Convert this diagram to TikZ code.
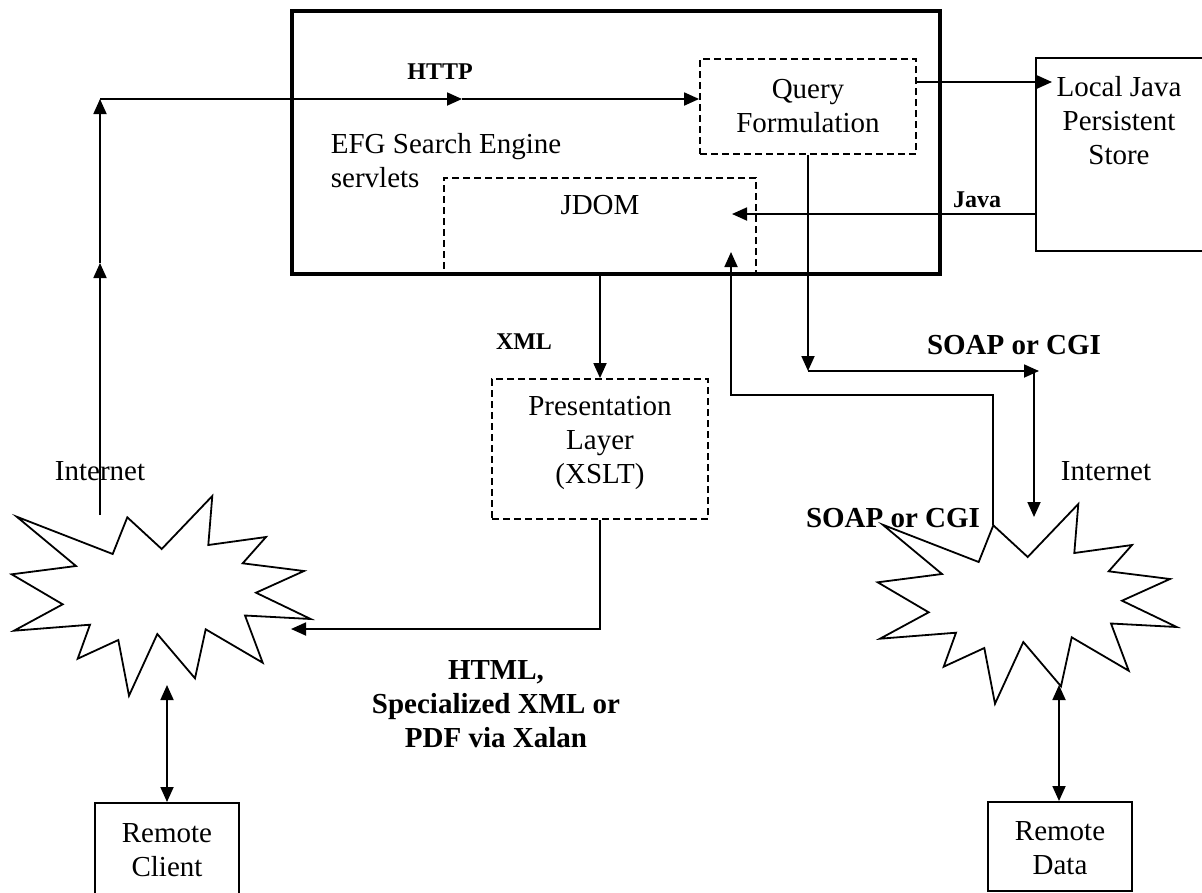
\documentclass[tikz,border=0pt]{standalone}
\usepackage{fontspec}
\setmainfont{Liberation Serif}
\usetikzlibrary{arrows.meta}
\begin{document}
\begin{tikzpicture}[x=1pt,y=-1pt,
  line width=1.8pt,
  arr/.style={-{Triangle[length=15pt,width=13pt]}},
  darr/.style={{Triangle[length=15pt,width=13pt]}-{Triangle[length=15pt,width=13pt]}},
  mainbox/.style={draw,line width=3.8pt,inner sep=0pt},
  dbox/.style={draw,line width=1.8pt,dash pattern=on 7pt off 4pt,inner sep=0pt},
  sbox/.style={draw,line width=2pt,inner sep=0pt},
  txt/.style={font=\fontsize{29}{34}\selectfont,align=center,inner sep=0pt},
  btxt/.style={font=\fontsize{29}{34}\selectfont\bfseries,align=center,inner sep=0pt},
  stxt/.style={font=\fontsize{24}{28}\selectfont\bfseries,inner sep=0pt},
  burst/.style={line width=1.8pt,line join=miter},
]
\useasboundingbox (0,0) rectangle (1202,892);
\clip (0,0) rectangle (1202,892);

% boxes
\node[mainbox,minimum width=648pt,minimum height=263pt] (efg) at (616,142.5) {};
\node[dbox,minimum width=216pt,minimum height=95pt,txt] (qf) at (808,106.5) {Query\\Formulation};
\node[dbox,minimum width=312pt,minimum height=95pt] (jdom) at (600,225.5) {};
\node[txt] (jdomlbl) at (600,205) {JDOM};
\node[sbox,minimum width=200pt,minimum height=193pt] (store) at (1136,154.5) {};
\node[txt] (storelbl) at (1119,121) {Local Java\\Persistent\\Store};
\node[dbox,minimum width=216pt,minimum height=140pt] (pres) at (600,449) {};
\node[txt] (preslbl) at (600,443) {Presentation\\Layer\\(XSLT)};
\node[sbox,minimum width=144pt,minimum height=93pt] (client) at (167,849.5) {};
\node[txt] (clientlbl) at (167,850) {Remote\\Client};
\node[sbox,minimum width=144pt,minimum height=89pt] (data) at (1060,846.5) {};
\node[txt] (datalbl) at (1060,848) {Remote\\Data};

% starbursts
\draw[burst] (16.7,516.7) -- (112.7,554) -- (127.3,517.3) -- (161.7,549) -- (212.3,496) -- (208.3,545) -- (266,537) -- (242.7,563.3) -- (304,571) -- (256,592.7) -- (310.7,619) -- (245,615.5) -- (262.7,662.7) -- (205.7,629.3) -- (195,678.3) -- (157.3,634) -- (129,695.7) -- (118.3,640) -- (77.7,658.7) -- (90,624.7) -- (14,630.7) -- (62.7,604.3) -- (11.7,574.3) -- (76,566) -- cycle;
\begin{scope}[shift={(866,8)}]
\draw[burst] (16.7,516.7) -- (112.7,554) -- (127.3,517.3) -- (161.7,549) -- (212.3,496) -- (208.3,545) -- (266,537) -- (242.7,563.3) -- (304,571) -- (256,592.7) -- (310.7,619) -- (245,615.5) -- (262.7,662.7) -- (205.7,629.3) -- (195,678.3) -- (157.3,634) -- (129,695.7) -- (118.3,640) -- (77.7,658.7) -- (90,624.7) -- (14,630.7) -- (62.7,604.3) -- (11.7,574.3) -- (76,566) -- cycle;
\coordinate (rv) at (127.3,517.3);
\end{scope}

% labels
\node[stxt] (http) at (440,72) {HTTP};
\node[txt,align=left,anchor=west] (efglbl) at (330,161) {EFG Search Engine\\servlets};
\node[stxt] (java) at (977,200) {Java};
\node[stxt] (xml) at (524,342) {XML};
\node[btxt] (soap1) at (1014,345) {SOAP or CGI};
\node[btxt] (soap2) at (893,518) {SOAP or CGI};
\node[txt] (inet1) at (100,471) {Internet};
\node[txt] (inet2) at (1106,471) {Internet};
\node[btxt] (html) at (496,704) {HTML,\\Specialized XML or\\PDF via Xalan};

% coordinates
\coordinate (lb) at (100,515);
\coordinate (lm) at (100,263);
\coordinate (tl) at (100,99);
\coordinate (hm) at (462,99);
\coordinate (qs) at (1052,82);
\coordinate (jt) at (732,214);
\coordinate (sc1) at (808,371);
\coordinate (sc2) at (1039,371);
\coordinate (sc3) at (1034,371);
\coordinate (sc4) at (1034,517);
\coordinate (rt1) at (992,395);
\coordinate (rt2) at (731,395);
\coordinate (rt3) at (731,252);
\coordinate (pl1) at (600,629);
\coordinate (pl2) at (291,629);
\coordinate (cb) at (167,685);
\coordinate (db) at (1059,685);

% connectors
\draw[arr] (lb) -- (lm);
\draw[arr] (lm) -- (tl);
\draw[arr] (tl) -- (hm);
\draw[arr] (hm) -- (qf.west |- tl);
\draw[arr] (qf.east |- qs) -- (qs);
\draw[arr] (store.west |- jt) -- (jt);
\draw[arr] (qf.south) -- (sc1);
\draw[arr] (sc1) -- (sc2);
\draw[arr] (sc3) -- (sc4);
\draw[arr] (rv) -- (rv |- rt1) -- (rt2) -- (rt3);
\draw[arr] (jdom.south) -- (pres.north);
\draw[arr] (pres.south) -- (pl1) -- (pl2);
\draw[darr] (cb) -- (client.north);
\draw[darr] (db) -- (data.north -| db);
\end{tikzpicture}
\end{document}
